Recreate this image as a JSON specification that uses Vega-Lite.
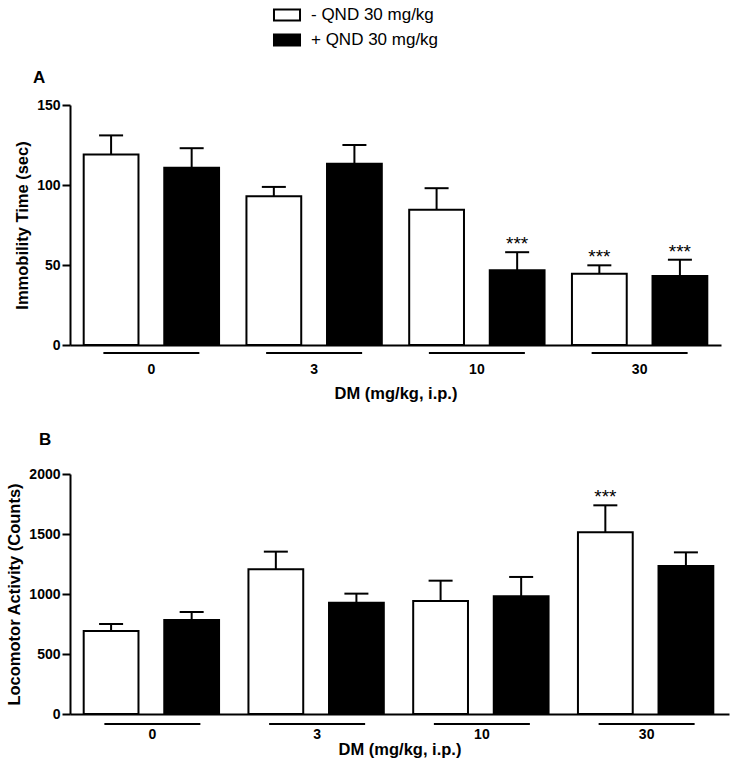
{
  "$schema": "https://vega.github.io/schema/vega-lite/v6.json",
  "padding": {"left": 6, "top": 3, "right": 6, "bottom": 4},
  "spacing": 29,
  "datasets": {
    "immobility": [
      {"dose": 0, "qnd": "- QND 30 mg/kg", "mean": 119, "upper": 131, "star": ""},
      {"dose": 0, "qnd": "+ QND 30 mg/kg", "mean": 110.8, "upper": 123, "star": ""},
      {"dose": 3, "qnd": "- QND 30 mg/kg", "mean": 93, "upper": 98.8, "star": ""},
      {"dose": 3, "qnd": "+ QND 30 mg/kg", "mean": 113.3, "upper": 125, "star": ""},
      {"dose": 10, "qnd": "- QND 30 mg/kg", "mean": 84.6, "upper": 98, "star": ""},
      {"dose": 10, "qnd": "+ QND 30 mg/kg", "mean": 46.7, "upper": 58, "star": "***"},
      {"dose": 30, "qnd": "- QND 30 mg/kg", "mean": 44.6, "upper": 49.8, "star": "***"},
      {"dose": 30, "qnd": "+ QND 30 mg/kg", "mean": 43.1, "upper": 53.3, "star": "***"}
    ],
    "locomotor": [
      {"dose": 0, "qnd": "- QND 30 mg/kg", "mean": 692, "upper": 750, "star": ""},
      {"dose": 0, "qnd": "+ QND 30 mg/kg", "mean": 783, "upper": 850, "star": ""},
      {"dose": 3, "qnd": "- QND 30 mg/kg", "mean": 1206, "upper": 1353, "star": ""},
      {"dose": 3, "qnd": "+ QND 30 mg/kg", "mean": 928, "upper": 1003, "star": ""},
      {"dose": 10, "qnd": "- QND 30 mg/kg", "mean": 942, "upper": 1111, "star": ""},
      {"dose": 10, "qnd": "+ QND 30 mg/kg", "mean": 981, "upper": 1142, "star": ""},
      {"dose": 30, "qnd": "- QND 30 mg/kg", "mean": 1514, "upper": 1739, "star": "***"},
      {"dose": 30, "qnd": "+ QND 30 mg/kg", "mean": 1233, "upper": 1347, "star": ""}
    ]
  },
  "vconcat": [
    {
      "data": {"name": "immobility"},
      "title": {"text": "A", "anchor": "start", "frame": "group", "dx": -37, "offset": 11, "fontSize": 17, "fontWeight": "bold", "font": "Liberation Sans", "color": "black"},
      "width": 651,
      "height": 240,
      "encoding": {
        "x": {"field": "dose", "type": "ordinal", "scale": {"paddingInner": 0, "paddingOuter": 0},
              "axis": {"title": "DM (mg/kg, i.p.)", "labelAngle": 0, "ticks": false, "labelPadding": 17, "titlePadding": 9}}
      },
      "layer": [
        {
          "mark": {"type": "bar", "stroke": "black", "strokeWidth": 2},
          "encoding": {
            "xOffset": {"field": "qnd", "type": "nominal", "scale": {"domain": ["- QND 30 mg/kg", "+ QND 30 mg/kg"], "paddingInner": 0.32, "paddingOuter": 0.17}},
            "y": {"field": "mean", "type": "quantitative", "scale": {"domain": [0, 150], "nice": false},
                  "axis": {"title": "Immobility Time (sec)", "values": [0, 50, 100, 150], "format": "d", "tickSize": 8, "labelPadding": 2, "titlePadding": 6}},
            "fill": {"field": "qnd", "type": "nominal", "scale": {"domain": ["- QND 30 mg/kg", "+ QND 30 mg/kg"], "range": ["white", "black"]},
                     "legend": {"orient": "none", "legendX": 205, "legendY": -102, "title": null, "symbolType": "M-1.2,-0.5H1.2V0.5H-1.2Z", "symbolSize": 470, "symbolStrokeColor": "black", "symbolStrokeWidth": 2, "labelFontSize": 17, "labelFont": "Liberation Sans", "labelFontWeight": "normal", "labelColor": "black", "rowPadding": 3, "labelOffset": 12}}
          }
        },
        {
          "mark": {"type": "rule", "strokeWidth": 2, "color": "black"},
          "encoding": {
            "xOffset": {"field": "qnd", "type": "nominal"},
            "y": {"field": "mean", "type": "quantitative"},
            "y2": {"field": "upper"}
          }
        },
        {
          "mark": {"type": "tick", "orient": "horizontal", "size": 24, "thickness": 2, "color": "black", "opacity": 1},
          "encoding": {
            "xOffset": {"field": "qnd", "type": "nominal"},
            "y": {"field": "upper", "type": "quantitative"}
          }
        },
        {
          "mark": {"type": "text", "baseline": "bottom", "dy": 2, "fontSize": 19, "font": "Liberation Sans", "color": "black"},
          "encoding": {
            "xOffset": {"field": "qnd", "type": "nominal"},
            "y": {"field": "upper", "type": "quantitative"},
            "text": {"field": "star"}
          }
        },
        {
          "transform": [{"filter": "datum.qnd == '- QND 30 mg/kg'"}],
          "mark": {"type": "tick", "orient": "horizontal", "size": 96, "thickness": 2, "color": "black", "opacity": 1},
          "encoding": {
            "x": {"field": "dose", "type": "ordinal", "bandPosition": 0.47},
            "y": {"datum": -5, "type": "quantitative"}
          }
        }
      ]
    },
    {
      "data": {"name": "locomotor"},
      "title": {"text": "B", "anchor": "start", "frame": "group", "dx": -31, "offset": 18, "fontSize": 17, "fontWeight": "bold", "font": "Liberation Sans", "color": "black"},
      "width": 659,
      "height": 240,
      "encoding": {
        "x": {"field": "dose", "type": "ordinal", "scale": {"paddingInner": 0, "paddingOuter": 0},
              "axis": {"title": "DM (mg/kg, i.p.)", "labelAngle": 0, "ticks": false, "labelPadding": 13, "titlePadding": 0}}
      },
      "layer": [
        {
          "mark": {"type": "bar", "stroke": "black", "strokeWidth": 2},
          "encoding": {
            "xOffset": {"field": "qnd", "type": "nominal", "scale": {"domain": ["- QND 30 mg/kg", "+ QND 30 mg/kg"], "paddingInner": 0.33, "paddingOuter": 0.17}},
            "y": {"field": "mean", "type": "quantitative", "scale": {"domain": [0, 2000], "nice": false},
                  "axis": {"title": "Locomotor Activity (Counts)", "values": [0, 500, 1000, 1500, 2000], "format": "d", "tickSize": 8, "labelPadding": 2, "titlePadding": 6}},
            "fill": {"field": "qnd", "type": "nominal", "scale": {"domain": ["- QND 30 mg/kg", "+ QND 30 mg/kg"], "range": ["white", "black"]},
                     "legend": {"orient": "none", "legendX": 205, "legendY": -102, "title": null, "symbolType": "M-1.2,-0.5H1.2V0.5H-1.2Z", "symbolSize": 470, "symbolStrokeColor": "black", "symbolStrokeWidth": 2, "labelFontSize": 17, "labelFont": "Liberation Sans", "labelFontWeight": "normal", "labelColor": "black", "rowPadding": 3, "labelOffset": 12}}
          }
        },
        {
          "mark": {"type": "rule", "strokeWidth": 2, "color": "black"},
          "encoding": {
            "xOffset": {"field": "qnd", "type": "nominal"},
            "y": {"field": "mean", "type": "quantitative"},
            "y2": {"field": "upper"}
          }
        },
        {
          "mark": {"type": "tick", "orient": "horizontal", "size": 24, "thickness": 2, "color": "black", "opacity": 1},
          "encoding": {
            "xOffset": {"field": "qnd", "type": "nominal"},
            "y": {"field": "upper", "type": "quantitative"}
          }
        },
        {
          "mark": {"type": "text", "baseline": "bottom", "dy": 2, "fontSize": 19, "font": "Liberation Sans", "color": "black"},
          "encoding": {
            "xOffset": {"field": "qnd", "type": "nominal"},
            "y": {"field": "upper", "type": "quantitative"},
            "text": {"field": "star"}
          }
        },
        {
          "transform": [{"filter": "datum.qnd == '- QND 30 mg/kg'"}],
          "mark": {"type": "tick", "orient": "horizontal", "size": 96, "thickness": 2, "color": "black", "opacity": 1},
          "encoding": {
            "x": {"field": "dose", "type": "ordinal", "bandPosition": 0.49},
            "y": {"datum": -83, "type": "quantitative"}
          }
        }
      ]
    }
  ],
  "config": {
    "font": "Liberation Sans",
    "view": {"stroke": null},
    "axis": {"domainColor": "black", "domainWidth": 2, "tickColor": "black", "tickWidth": 2, "labelColor": "black", "titleColor": "black",
             "labelFont": "Liberation Sans", "titleFont": "Liberation Sans", "labelFontWeight": "bold", "titleFontWeight": "bold",
             "labelFontSize": 14, "titleFontSize": 16.5, "grid": false}
  }
}
